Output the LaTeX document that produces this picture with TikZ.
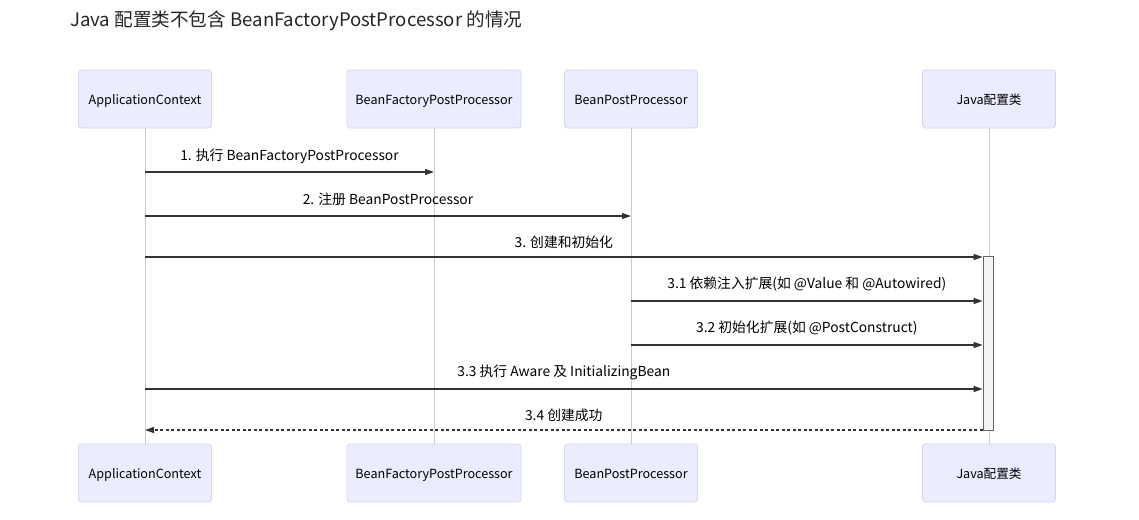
\documentclass[tikz,border=0pt]{standalone}
\usepackage{fontspec}
\setmainfont{Noto Sans CJK SC}
\usetikzlibrary{arrows.meta}
\definecolor{boxfill}{HTML}{ECECFF}
\definecolor{boxline}{HTML}{D4D4F0}
\definecolor{lifeline}{HTML}{CCCCCC}
\definecolor{msgcol}{HTML}{333333}
\definecolor{actfill}{HTML}{F4F4F4}
\definecolor{actline}{HTML}{666666}
\tikzset{
  actor/.style={draw=boxline, fill=boxfill, rounded corners=3pt, minimum height=58pt,
    line width=0.8pt, font=\fontsize{12.6}{14}\selectfont, text=black, inner sep=0pt,
    text height=11.5pt, text depth=0pt},
  life/.style={draw=lifeline, line width=1pt},
  msg/.style={draw=msgcol, line width=1.2pt, -{Triangle[length=9pt,width=6pt]}},
  ret/.style={draw=msgcol, line width=1.2pt, dash pattern=on 3pt off 2.5pt, -{Triangle[length=9pt,width=6pt]}},
  lbl/.style={font=\fontsize{13.8}{15}\selectfont, text=black, inner sep=0pt},
  act/.style={draw=actline, fill=actfill, line width=0.8pt, minimum width=10pt, minimum height=174pt, inner sep=0pt},
}
\begin{document}
\begin{tikzpicture}[x=1pt,y=-1pt]
\useasboundingbox[fill=white] (0,0) rectangle (1139,519);
\node[anchor=west, inner sep=0pt, font=\fontsize{18.6}{20}\selectfont, text=black!85] (title) at (70,20.5)
  {Java 配置类不包含 BeanFactoryPostProcessor 的情况};

% top actors
\node[actor, minimum width=133pt] (a1) at (145,99) {ApplicationContext};
\node[actor, minimum width=174pt] (b1) at (434,99) {BeanFactoryPostProcessor};
\node[actor, minimum width=133pt] (c1) at (631,99) {BeanPostProcessor};
\node[actor, minimum width=133pt] (d1) at (989,99) {Java配置类};
% bottom actors
\node[actor, minimum width=133pt] (a2) at (145,473) {ApplicationContext};
\node[actor, minimum width=174pt] (b2) at (434,473) {BeanFactoryPostProcessor};
\node[actor, minimum width=133pt] (c2) at (631,473) {BeanPostProcessor};
\node[actor, minimum width=133pt] (d2) at (989,473) {Java配置类};

% lifelines
\draw[life] (a1.south) -- (a2.north);
\draw[life] (b1.south) -- (b2.north);
\draw[life] (c1.south) -- (c2.north);
\draw[life] (d1.south) -- (d2.north);

% activation
\node[act] (act) at (988,343) {};

% messages
\draw[msg] (a1.south |- 0,172) -- (b1.south |- 0,172)
  node[lbl, midway, yshift=16pt] (l1) {1. 执行 BeanFactoryPostProcessor};
\draw[msg] (a1.south |- 0,216) -- (c1.south |- 0,216)
  node[lbl, midway, yshift=17pt] (l2) {2. 注册 BeanPostProcessor};
\draw[msg] (a1.south |- 0,257) -- (act.west |- 0,257)
  node[lbl, midway, yshift=15pt] (l3) {3. 创建和初始化};
\draw[msg] (c1.south |- 0,301) -- (act.west |- 0,301)
  node[lbl, midway, yshift=16.5pt] (l31) {3.1 依赖注入扩展(如 @Value 和 @Autowired)};
\draw[msg] (c1.south |- 0,345) -- (act.west |- 0,345)
  node[lbl, midway, yshift=16.5pt] (l32) {3.2 初始化扩展(如 @PostConstruct)};
\draw[msg] (a1.south |- 0,389) -- (act.west |- 0,389)
  node[lbl, midway, yshift=16.5pt] (l33) {3.3 执行 Aware 及 InitializingBean};
\draw[ret] (act.west |- 0,430) -- (a1.south |- 0,430)
  node[lbl, midway, yshift=15pt] (l34) {3.4 创建成功};
\end{tikzpicture}
\end{document}
